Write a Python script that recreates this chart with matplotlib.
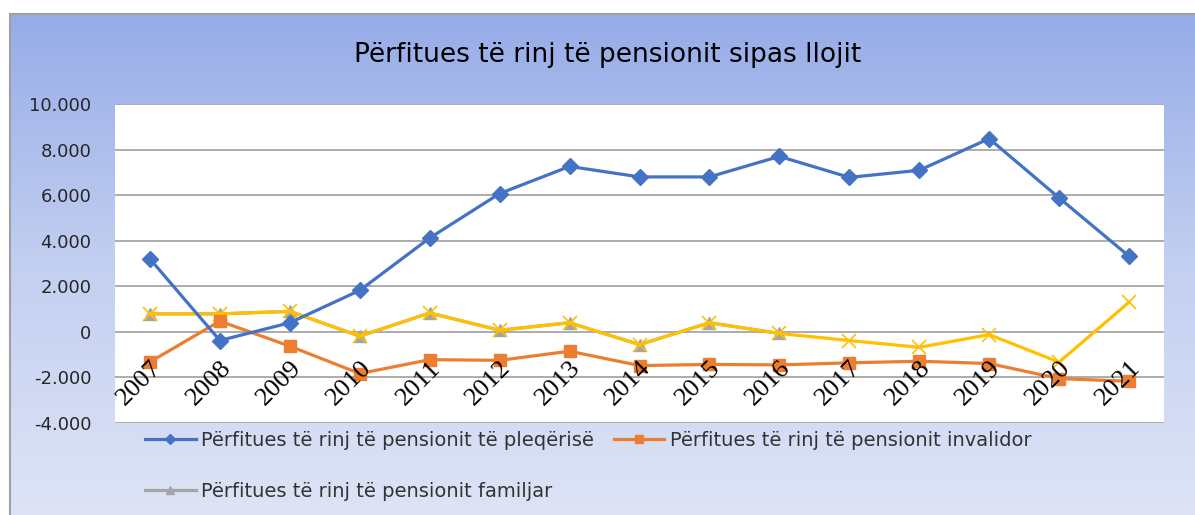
import numpy as np
import matplotlib
matplotlib.use('Agg')
import matplotlib.pyplot as plt
from matplotlib.ticker import FuncFormatter
from matplotlib.colors import LinearSegmentedColormap

# data
years = ['2007', '2008', '2009', '2010', '2011', '2012', '2013', '2014',
         '2015', '2016', '2017', '2018', '2019', '2020', '2021']
pleqerise = [3200, -380, 400, 1820, 4120, 6070, 7260, 6800, 6800, 7700,
             6780, 7090, 8480, 5880, 3320]
invalidor = [-1320, 470, -630, -1830, -1220, -1250, -850, -1480, -1430, -1450,
             -1360, -1290, -1390, -2050, -2170]
familjar = [790, 790, 900, -190, 830, 70, 400, -560, 400, -70,
            np.nan, np.nan, np.nan, np.nan, np.nan]
total = [790, 790, 900, -190, 830, 70, 400, -560, 400, -70,
         -380, -680, -120, -1330, 1300]

labels = ['Përfitues të rinj të pensionit të pleqërisë',
          'Përfitues të rinj të pensionit invalidor',
          'Përfitues të rinj të pensionit familjar']
title = 'Përfitues të rinj të pensionit sipas llojit'

W, H = 1195, 515
fig = plt.figure(figsize=(W / 100, H / 100), dpi=100)
fig.patch.set_facecolor('white')

# gradient background of the chart area
bg = fig.add_axes([10 / W, 0, 1 - 10 / W, (H - 14) / H])
cmap = LinearSegmentedColormap.from_list('bg', ['#96ACE8', '#C3CFF1', '#DEE4F6'])
bg.imshow(np.linspace(0, 1, 256).reshape(-1, 1), cmap=cmap, aspect='auto',
          extent=[0, 1, 0, 1])
bg.set_xlim(0, 1)
bg.set_ylim(0, 1)
bg.set_xticks([])
bg.set_yticks([])
for side in ['right', 'bottom']:
    bg.spines[side].set_visible(False)
for side in ['left', 'top']:
    bg.spines[side].set_color('#A0A0A0')
    bg.spines[side].set_linewidth(1.5)

ax = fig.add_axes([115 / W, (H - 423) / H, 1049 / W, 319 / H])
ax.set_facecolor('white')
x = np.arange(len(years))

l1, = ax.plot(x, pleqerise, color='#4472C4', lw=2.3, marker='D', ms=8, label=labels[0], zorder=4)
l2, = ax.plot(x, invalidor, color='#ED7D31', lw=2.3, marker='s', ms=9, label=labels[1], zorder=3)
l3, = ax.plot(x, familjar, color='#A5A5A5', lw=2.3, marker='^', ms=9, label=labels[2], zorder=2)
ax.plot(x, total, color='#FFC000', lw=2.3, marker='x', ms=10, mew=1.2, zorder=2.5)

ax.set_xlim(-0.5, len(years) - 0.5)
ax.set_ylim(-4000, 10000)
ax.set_yticks(np.arange(-4000, 10001, 2000))
ax.yaxis.set_major_formatter(FuncFormatter(lambda v, p: f'{int(v):,}'.replace(',', '.')))
ax.grid(axis='y', color='#A6A6A6', lw=1.3)
ax.set_axisbelow(True)
ax.xaxis.set_zorder(6)  # year labels sit on top of the lines
for side in ['left', 'right', 'top']:
    ax.spines[side].set_visible(False)
ax.spines['bottom'].set_position(('data', 0))
ax.spines['bottom'].set_visible(False)
ax.tick_params(axis='y', length=0, pad=17, labelsize=13, labelcolor='#262626')
ax.tick_params(axis='x', length=0, pad=18)
ax.set_xticks(x)
ax.set_xticklabels(years, rotation=45, ha='right', va='top', rotation_mode='anchor',
                   fontfamily='Liberation Serif', fontsize=19, color='black')

fig.text(608 / W, 1 - 55 / H, title, ha='center', va='center', fontsize=19, color='black')

# column-major fill: put familjar in the second row of column one
fig.legend([l1, l3, l2], [labels[0], labels[2], labels[1]],
           loc='upper left', bbox_to_anchor=(145 / W, 1 - 431 / H), ncol=2,
           frameon=False, fontsize=14, handlelength=2.6, handletextpad=0.3,
           columnspacing=1.0, labelspacing=1.65, borderpad=0, borderaxespad=0,
           markerscale=0.6, labelcolor='#333333')

fig.savefig('out.png', dpi=100)
